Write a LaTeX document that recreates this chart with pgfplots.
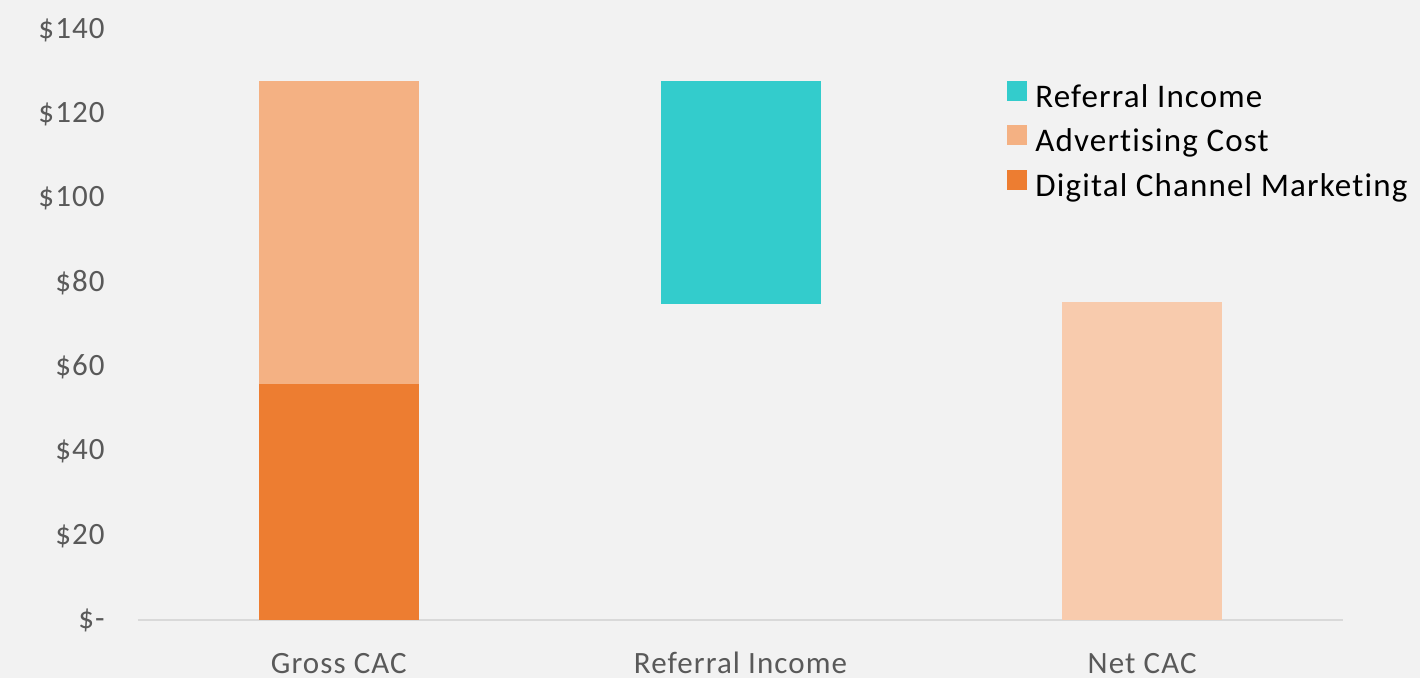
\documentclass[border=0pt]{standalone}
\usepackage{pgfplots}
\pgfplotsset{compat=1.18}
\usepackage{fontspec}
\setmainfont{Carlito}[LetterSpace=3.5, Ligatures=NoCommon]
\definecolor{bg}{HTML}{F2F2F2}
\definecolor{axisgray}{HTML}{D9D9D9}
\definecolor{txt}{HTML}{595959}
\definecolor{dcm}{HTML}{ED7D31}
\definecolor{adv}{HTML}{F4B183}
\definecolor{ref}{HTML}{33CCCC}
\definecolor{net}{HTML}{F8CBAD}
\begin{document}
\begin{tikzpicture}
\fill[bg] (-69pt,-29pt) rectangle (641pt,310pt);
\begin{axis}[
  at={(0pt,0pt)}, anchor=south west,
  scale only axis, width=602.5pt, height=295pt,
  xmin=-0.5, xmax=2.5, ymin=0, ymax=140,
  ybar stacked, bar width=80pt,
  axis lines*=left,
  y axis line style={draw=none},
  x axis line style={draw=axisgray, line width=1pt, -},
  major tick length=0pt,
  xtick={0,1,2}, xticklabels={Gross CAC, Referral Income, Net CAC},
  ytick={0,20,40,60,80,100,120,140},
  yticklabels={\$-, \$20, \$40, \$60, \$80, \$100, \$120, \$140},
  tick label style={font=\fontsize{15.5}{18}\selectfont, text=txt},
  yticklabel style={anchor=east, inner sep=0pt, xshift=-16.5pt},
  xticklabel style={anchor=north, inner sep=0pt, text height=11pt, text depth=3pt, yshift=-15.5pt},
  reverse legend,
  legend style={at={(0.7212,0.9203)}, anchor=north west, draw=none, fill=none,
    inner sep=0pt, row sep=0pt, font=\fontsize{16.5}{20}\selectfont, text=black,
    nodes={text height=12pt, text depth=4.25pt, inner ysep=3pt, inner xsep=4pt}},
  legend cell align=left,
  legend image code/.code={\fill[#1] (0pt,-0.5pt) rectangle (10pt,9.5pt);},
]
\addplot[fill=dcm, draw=none] coordinates {(0,56) (1,0) (2,0)};
\addlegendentry{Digital Channel Marketing}
\addplot[fill=none, draw=none, forget plot] coordinates {(0,0) (1,75) (2,0)};
\addplot[fill=adv, draw=none] coordinates {(0,72) (1,0) (2,0)};
\addlegendentry{Advertising Cost}
\addplot[fill=ref, draw=none] coordinates {(0,0) (1,53) (2,0)};
\addlegendentry{Referral Income}
\addplot[fill=net, draw=none, forget plot] coordinates {(0,0) (1,0) (2,75.5)};
\end{axis}
\end{tikzpicture}
\end{document}
